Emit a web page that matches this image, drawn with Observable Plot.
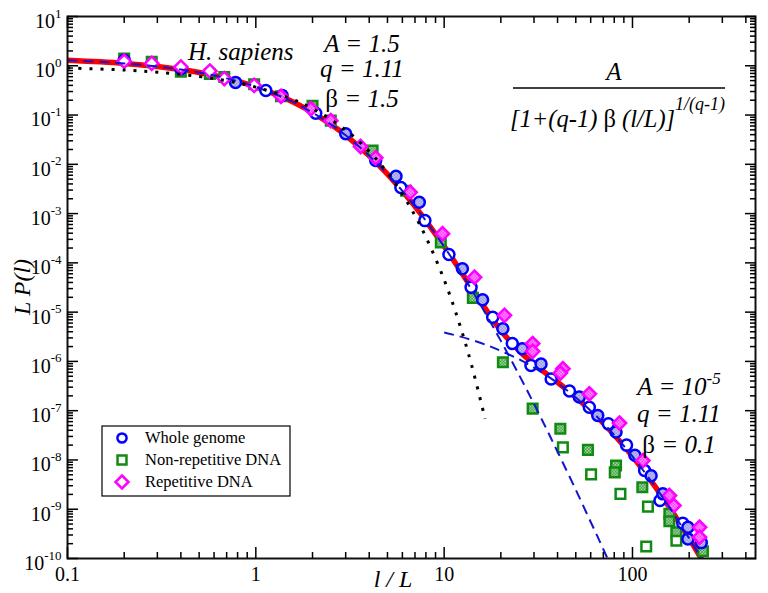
<!DOCTYPE html>
<html><head><meta charset="utf-8">
<script src="https://cdn.jsdelivr.net/npm/d3@7"></script>
<script src="https://cdn.jsdelivr.net/npm/@observablehq/plot@0.6"></script>
<style>body{margin:0;background:#fff} #chart{width:768px;height:593px}</style>
</head><body><div id="chart"></div>
<script>
// ---------- data ----------
const xMajor = [0.1, 1, 10, 100];
const xMinor = [0.2,0.3,0.4,0.5,0.6,0.7,0.8,0.9,2,3,4,5,6,7,8,9,20,30,40,50,60,70,80,90,200,300,400];
const yExponents = [-10,-9,-8,-7,-6,-5,-4,-3,-2,-1,0,1];

// Whole genome (two interleaved sets: open / hatched)
const wholeGenomeA = [[0.2,1.3],[0.4,0.87],[1.13,0.315],[2.08,0.109],[4.33,0.012],[5.89,0.0034],[7.9,7.2e-4],[10.6,1.48e-4],[13.9,3.2e-5],[18.1,7.9e-6],[23,2.3e-6],[28.9,8.3e-7],[37,4.4e-7],[46.3,2.5e-7],[59,1.17e-7],[74.5,5.4e-8],[93,2.0e-8],[116,6.1e-9],[140,1.5e-9],[185,5.2e-10]];
const wholeGenomeB = [[0.78,0.46],[1.38,0.25],[3.0,0.0416],[5.55,0.0057],[7.38,0.0017],[12.5,7.6e-5],[16,1.78e-5],[20.5,4.6e-6],[26,1.8e-6],[32.7,8.9e-7],[52.2,1.9e-7],[65.4,8e-8],[81.8,3.7e-8],[103,1.25e-8],[125.6,4.8e-9],[145,2.05e-9],[197,4.3e-10],[197,2.5e-10],[232,2.1e-10]];
// Non-repetitive DNA
const nonRepetitiveA = [[0.2,1.4],[0.28,1.2],[0.4,0.76],[0.57,0.68],[0.68,0.59],[0.98,0.42],[1.36,0.24],[2.0,0.155],[2.5,0.077],[4.17,0.019],[6.27,0.0029],[9.6,2.6e-4],[14.2,1.95e-5],[20.5,9.6e-7],[29.5,1.1e-7],[41.4,4.3e-8],[58,1.6e-8],[81.8,7.7e-9],[80.5,5.6e-9],[112.8,2.8e-9],[157,8.1e-10],[157,5.7e-10],[171,3.4e-10],[236.6,1.4e-10]];
const nonRepetitiveB = [[42.7,1.8e-8],[60.3,5.1e-9],[86.3,2.05e-9],[120.8,1.13e-9],[118.3,1.75e-10],[171,2.3e-10]];
// Repetitive DNA
const repetitiveA = [[0.2,1.24],[0.28,1.12],[0.4,0.94],[0.57,0.78],[0.68,0.55],[0.98,0.40]];
const repetitiveB = [[1.36,0.24],[1.96,0.134],[2.5,0.077],[3.6,0.023],[4.33,0.0136],[6.6,0.0027],[9.8,3.9e-4],[14.5,5.1e-5],[20.9,8.6e-6],[29.5,2.3e-6],[29.5,1.6e-6],[42.7,7.1e-7],[41.4,5.8e-7],[59,2.2e-7],[85.3,5.6e-8],[113.6,9.7e-9],[157,1.9e-9],[166,1.19e-9],[227,4.3e-10],[227,2.7e-10]];

// Curves
const fitTotal = [[0.1,1.293],[0.15,1.201],[0.2,1.117],[0.3,0.967],[0.4,0.839],[0.5,0.730],[0.7,0.555],[1,0.374],[1.5,0.201],[2,0.112],[2.5,0.0649],[3,0.0388],[4,0.01497],[5,0.00633],[6,0.00288],[7,0.0014],[8,7.15e-4],[10,2.17e-4],[12,7.64e-5],[15,2.07e-5],[17.5,8.56e-6],[20,4.25e-6],[25,1.64e-6],[30,8.85e-7],[35,5.6e-7],[40,3.78e-7],[50,1.88e-7],[60,1.0e-7],[70,5.6e-8],[85,2.48e-8],[100,1.18e-8],[130,3.12e-9],[150,1.42e-9],[175,5.79e-10],[200,2.56e-10],[230,1.05e-10],[250,6.05e-11]];
const fitShort = [[0.1,1.293],[0.15,1.201],[0.2,1.117],[0.3,0.967],[0.4,0.839],[0.5,0.730],[0.7,0.555],[1,0.374],[1.5,0.201],[2,0.112],[2.5,0.0649],[3,0.0388],[4,0.01497],[5,0.00632],[6,0.00288],[7,0.0014],[8,7.14e-4],[10,2.13e-4],[12,7.32e-5],[15,1.82e-5],[17.5,6.54e-6],[20,2.61e-6],[25,5.31e-7],[30,1.37e-7],[35,4.2e-8],[40,1.47e-8],[50,2.48e-9],[60,5.5e-10],[65,2.87e-10],[70,1.54e-10],[80,5.0e-11]];
const fitLong = [[10,3.87e-6],[12,3.24e-6],[15,2.5e-6],[17.5,2.02e-6],[20,1.64e-6],[25,1.1e-6],[30,7.48e-7],[35,5.18e-7],[40,3.63e-7],[50,1.86e-7],[60,9.98e-8],[70,5.57e-8],[85,2.48e-8],[100,1.18e-8],[130,3.12e-9],[150,1.42e-9],[175,5.79e-10],[200,2.56e-10],[230,1.05e-10],[250,6.05e-11]];
const expDecay = [[0.1,0.905],[0.2,0.819],[0.3,0.741],[0.5,0.607],[0.7,0.497],[1,0.368],[1.5,0.223],[2,0.135],[3,0.0498],[4,0.0183],[5,0.00674],[6,0.00248],[7,9.12e-4],[8,3.35e-4],[10,4.54e-5],[12,6.14e-6],[14,8.3e-7],[16.5,6.8e-8]];

const legendItems = ["Whole genome", "Non-repetitive DNA", "Repetitive DNA"];

// ---------- chart ----------
const SERIF = "'Liberation Serif', 'Times New Roman', serif";
const BLUE = "#0000ff", GREEN = "#118a11", MAGENTA = "#ff00ff", RED = "#ff0000", DASHBLUE = "#1414d0";
const pt = d => ({x: d[0], y: d[1]});
const yTicks = yExponents.map(e => Math.pow(10, e));
const yMinor = [];
for (const e of yExponents.slice(0, -1)) for (let k = 2; k <= 9; k++) yMinor.push(k * Math.pow(10, e));

const plot = Plot.plot({
  width: 768, height: 593,
  marginLeft: 67, marginRight: 13, marginTop: 16, marginBottom: 35,
  style: {fontFamily: SERIF, fontSize: "20px", background: "#fff", color: "#000"},
  x: {type: "log", domain: [0.1, 450]},
  y: {type: "log", domain: [1e-10, 10]},
  marks: [
    Plot.line(fitTotal.map(pt), {x: "x", y: "y", stroke: RED, strokeWidth: 5.5, curve: "catmull-rom", clip: true}),
    Plot.dot(nonRepetitiveA.map(pt), {x: "x", y: "y", symbol: "square", r: 5.4, stroke: GREEN, strokeWidth: 2.5, fill: "url(#hatchGreen)"}),
    Plot.dot(nonRepetitiveB.map(pt), {x: "x", y: "y", symbol: "square", r: 5.4, stroke: GREEN, strokeWidth: 2.5, fill: "#fff"}),
    Plot.dot(wholeGenomeA.map(pt), {x: "x", y: "y", symbol: "circle", r: 5.5, stroke: BLUE, strokeWidth: 2.5, fill: "#fff"}),
    Plot.dot(wholeGenomeB.map(pt), {x: "x", y: "y", symbol: "circle", r: 5.5, stroke: BLUE, strokeWidth: 2.5, fill: "url(#hatchBlue)"}),
    Plot.dot(repetitiveA.map(pt), {x: "x", y: "y", symbol: "diamond2", r: 6, stroke: MAGENTA, strokeWidth: 2.5, fill: "#fff"}),
    Plot.dot(repetitiveB.map(pt), {x: "x", y: "y", symbol: "diamond2", r: 6, stroke: MAGENTA, strokeWidth: 2.5, fill: "url(#hatchMagenta)"}),
    Plot.line(fitShort.map(pt), {x: "x", y: "y", stroke: DASHBLUE, strokeWidth: 2, strokeDasharray: "10,6", strokeLinecap: "butt", curve: "catmull-rom", clip: true}),
    Plot.line(fitLong.map(pt), {x: "x", y: "y", stroke: DASHBLUE, strokeWidth: 2, strokeDasharray: "10,6", strokeLinecap: "butt", curve: "catmull-rom", clip: true}),
    Plot.line(expDecay.map(pt), {x: "x", y: "y", stroke: "#000", strokeWidth: 3, strokeDasharray: "3,8", strokeLinecap: "butt", curve: "catmull-rom", clip: true}),
    Plot.frame({stroke: "#111", strokeWidth: 2}),
    // inward ticks
    Plot.axisX({anchor: "bottom", ticks: xMajor, tickSize: -11, fill: "none", label: null, strokeWidth: 1.5}),
    Plot.axisX({anchor: "bottom", ticks: xMinor, tickSize: -6, fill: "none", label: null, strokeWidth: 1.5}),
    Plot.axisX({anchor: "top", ticks: xMajor, tickSize: -11, fill: "none", label: null, strokeWidth: 1.5}),
    Plot.axisX({anchor: "top", ticks: xMinor, tickSize: -6, fill: "none", label: null, strokeWidth: 1.5}),
    Plot.axisY({anchor: "left", ticks: yTicks, tickSize: -11, fill: "none", label: null, strokeWidth: 1.5}),
    Plot.axisY({anchor: "left", ticks: yMinor, tickSize: -6, fill: "none", label: null, strokeWidth: 1.5}),
    Plot.axisY({anchor: "right", ticks: yTicks, tickSize: -11, fill: "none", label: null, strokeWidth: 1.5}),
    Plot.axisY({anchor: "right", ticks: yMinor, tickSize: -6, fill: "none", label: null, strokeWidth: 1.5}),
    // labels
    Plot.axisX({anchor: "bottom", ticks: xMajor, tickSize: 0, tickPadding: 8, tickFormat: d => String(d), label: null, fontSize: 20}),
    Plot.axisY({anchor: "left", ticks: yTicks, tickSize: 0, tickPadding: 6, dy: 5, tickFormat: d => "10^" + Math.round(Math.log10(d)), label: null, fontSize: 20})
  ]
});
document.getElementById("chart").appendChild(plot);

const svg = d3.select(plot);
// superscript exponents on y tick labels
svg.selectAll('g[aria-label="y-axis tick label"] text').each(function() {
  const t = d3.select(this);
  const [b, e] = t.text().split("^");
  t.text(null);
  t.append("tspan").text(b);
  t.append("tspan").attr("dy", "-0.8em").attr("font-size", "13px").text(e);
});

// hatch patterns
const defs = svg.insert("defs", ":first-child");
function hatch(id, bg, fg) {
  const p = defs.append("pattern").attr("id", id).attr("patternUnits", "userSpaceOnUse").attr("width", 3).attr("height", 3);
  p.append("rect").attr("width", 3).attr("height", 3).attr("fill", bg);
  p.append("rect").attr("width", 1.5).attr("height", 1.5).attr("fill", fg);
  p.append("rect").attr("x", 1.5).attr("y", 1.5).attr("width", 1.5).attr("height", 1.5).attr("fill", fg);
}
hatch("hatchBlue", "#ffffff", "#5a5ad8");
hatch("hatchGreen", "#118a11", "#d8ecd8");
hatch("hatchMagenta", "#ff00ff", "#ffd0ff");

// annotations
const g = svg.append("g").attr("font-family", SERIF).attr("fill", "#000");
function txt(x, y, parts, size = 25, anchor = "start") {
  const t = g.append("text").attr("x", x).attr("y", y).attr("font-size", size).attr("text-anchor", anchor);
  for (const p of parts) {
    const s = t.append("tspan").text(p.t);
    if (!p.up) s.attr("font-style", "italic");
    if (p.dy) s.attr("dy", p.dy);
    if (p.size) s.attr("font-size", p.size);
  }
  return t;
}
txt(188, 60, [{t: "H. sapiens"}]);
txt(362, 52, [{t: "A = 1.5"}], 25, "middle");
txt(362, 77, [{t: "q = 1.11"}], 25, "middle");
txt(362, 107, [{t: "β", up: true}, {t: " = 1.5"}], 25, "middle");
txt(614, 80, [{t: "A"}], 25, "middle");
g.append("line").attr("x1", 513).attr("x2", 725).attr("y1", 88).attr("y2", 88).attr("stroke", "#000").attr("stroke-width", 1.5);
txt(510, 127, [{t: "[1+(q-1) "}, {t: "β", up: true}, {t: " (l/L)]"}, {t: "1/(q-1)", dy: -17, size: 18}], 24.5);
txt(679, 395, [{t: "A = 10"}, {t: "-5", dy: -11, size: 17}], 25, "middle");
txt(679, 422, [{t: "q = 1.11"}], 25, "middle");
txt(679, 453, [{t: "β", up: true}, {t: " = 0.1"}], 25, "middle");
// axis titles
txt(393, 587, [{t: "l / L"}], 24, "middle");
g.append("text").attr("transform", "translate(30,287) rotate(-90)").attr("text-anchor", "middle")
  .attr("font-size", 24).attr("font-style", "italic").text("L P(l)");

// legend
const lg = svg.append("g").attr("font-family", SERIF).attr("text-anchor", "start");
lg.append("rect").attr("x", 102).attr("y", 426).attr("width", 188).attr("height", 70)
  .attr("fill", "#fff").attr("stroke", "#000").attr("stroke-width", 1.2);
const legendSyms = [
  {d: d3.symbol(d3.symbolCircle, Math.PI * 4.6 * 4.6)(), c: BLUE},
  {d: d3.symbol(d3.symbolSquare, 80)(), c: GREEN},
  {d: "M0,-6.5L6.5,0L0,6.5L-6.5,0Z", c: MAGENTA}
];
legendItems.forEach((name, i) => {
  const y = 438 + i * 22;
  lg.append("path").attr("transform", `translate(122,${y})`).attr("d", legendSyms[i].d)
    .attr("fill", "none").attr("stroke", legendSyms[i].c).attr("stroke-width", 2.5);
  lg.append("text").attr("x", 145).attr("y", y + 5).attr("font-size", 16.5).attr("text-anchor", "start").text(name);
});
</script>
</body></html>
